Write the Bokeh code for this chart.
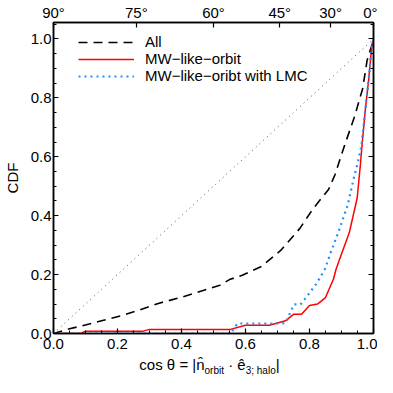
import numpy as np
from bokeh.plotting import figure
from bokeh.layouts import column
from bokeh.models import (Range1d, LinearAxis, FixedTicker, Legend, LegendItem, Div,
                          NumeralTickFormatter, CustomJSTickFormatter)
from bokeh.embed import file_html
from bokeh.resources import INLINE

# ---------------- data ----------------
x_all = [0.0, 0.05, 0.09, 0.15, 0.21, 0.27, 0.33, 0.40, 0.45, 0.52, 0.55, 0.59, 0.65, 0.71,
         0.77, 0.81, 0.86, 0.88, 0.909, 0.94, 0.966, 0.98, 0.995, 1.0]
y_all = [0.0, 0.016, 0.026, 0.043, 0.06, 0.08, 0.103, 0.123, 0.14, 0.164, 0.183, 0.198, 0.228, 0.282,
         0.357, 0.422, 0.49, 0.54, 0.637, 0.734, 0.831, 0.927, 0.98, 1.0]

x_mw = [0.0, 0.085, 0.10, 0.28, 0.30, 0.553, 0.60, 0.675, 0.725, 0.75, 0.775, 0.80, 0.825, 0.85,
        0.875, 0.883, 0.90, 0.924, 0.949, 0.959, 0.964, 0.974, 0.985, 0.995, 1.0]
y_mw = [0.0, 0.0, 0.008, 0.008, 0.014, 0.014, 0.028, 0.028, 0.043, 0.065, 0.065, 0.095, 0.10, 0.122,
        0.185, 0.218, 0.27, 0.341, 0.46, 0.573, 0.637, 0.755, 0.863, 0.98, 1.0]

x_lmc = [0.0, 0.553, 0.575, 0.715, 0.726, 0.738, 0.752, 0.772, 0.795, 0.822, 0.848, 0.868, 0.89,
         0.919, 0.939, 0.954, 0.962, 0.974, 0.985, 0.995, 1.0]
y_lmc = [0.0, 0.0, 0.034, 0.034, 0.037, 0.067, 0.099, 0.099, 0.13, 0.17, 0.218, 0.28, 0.343,
         0.435, 0.53, 0.594, 0.637, 0.755, 0.863, 0.98, 1.0]

diag = [0.0, 1.0]

series_labels = ["All", "MW\u2212like\u2212orbit", "MW\u2212like\u2212oribt with LMC"]

x_ticks = [0.0, 0.2, 0.4, 0.6, 0.8, 1.0]
y_ticks = [0.0, 0.2, 0.4, 0.6, 0.8, 1.0]
angle_ticks = [90, 75, 60, 45, 30, 0]
y_label = "CDF"
xlabel_html = ("cos \u03b8 = |n\u0302<sub>orbit</sub> \u00b7 \u00ea<sub>3; halo</sub>|")

# ---------------- layout / styling ----------------
FONT = "Liberation Sans"
FS = 15
SUB_FS = 10
W = 377
H_LABEL = 20
H_MAIN = 377 - H_LABEL
B_LEFT, B_RIGHT, B_TOP, B_BOTTOM = 46, 4, 19, 24
FRAME_W = W - B_LEFT - B_RIGHT
FRAME_H = H_MAIN - B_TOP - B_BOTTOM

p = figure(width=W, height=H_MAIN,
           x_range=Range1d(0, 1), y_range=Range1d(0, 1.056),
           output_backend="svg", toolbar_location=None,
           x_axis_location=None, y_axis_location=None,
           min_border_left=B_LEFT, min_border_right=B_RIGHT,
           min_border_top=B_TOP, min_border_bottom=B_BOTTOM)
p.grid.visible = False
p.outline_line_color = "black"
p.outline_line_width = 1.5
p.background_fill_color = "white"
p.border_fill_color = "white"

minor = [i * 0.05 for i in range(22)]


def style(ax, size=FS):
    ax.axis_line_width = 1.5
    ax.axis_line_color = "black"
    ax.major_tick_in = 5
    ax.major_tick_out = 0
    ax.minor_tick_in = 3
    ax.minor_tick_out = 0
    ax.major_tick_line_width = 1.2
    ax.minor_tick_line_width = 1
    ax.major_tick_line_color = "black"
    ax.minor_tick_line_color = "black"
    ax.major_label_text_font = FONT
    ax.major_label_text_font_size = f"{size}px"
    ax.major_label_text_color = "black"
    ax.major_label_standoff = 3


bottom = LinearAxis(ticker=FixedTicker(ticks=x_ticks, minor_ticks=minor),
                    formatter=NumeralTickFormatter(format="0.0"))
style(bottom)
bottom.major_label_standoff = 5
p.add_layout(bottom, "below")

left = LinearAxis(ticker=FixedTicker(ticks=y_ticks, minor_ticks=minor),
                  formatter=NumeralTickFormatter(format="0.0"),
                  axis_label=y_label)
style(left)
left.major_label_standoff = 2
left.axis_label_text_font = FONT
left.axis_label_text_font_size = f"{FS}px"
left.axis_label_text_font_style = "normal"
left.axis_label_text_color = "black"
left.axis_label_standoff = 7
p.add_layout(left, "left")

right = LinearAxis(ticker=FixedTicker(ticks=y_ticks, minor_ticks=minor),
                   formatter=CustomJSTickFormatter(code="return ''"))
style(right, size=1)
right.major_label_standoff = 0
p.add_layout(right, "right")

top_pos = [float(np.cos(np.radians(a))) for a in angle_ticks]
top = LinearAxis(ticker=FixedTicker(ticks=top_pos, minor_ticks=[]))
top.major_label_overrides = {t: f"{a}\u00b0" for t, a in zip(top_pos, angle_ticks)}
style(top)
top.major_label_standoff = 2
p.add_layout(top, "above")

# ---------------- lines ----------------
p.line(diag, diag, line_color="#555555", line_width=1, line_dash="1 4")
r_all = p.line(x_all, y_all, line_color="black", line_width=1.6, line_dash="9 6")
r_mw = p.line(x_mw, y_mw, line_color="#ff0000", line_width=1.5)
r_lmc = p.line(x_lmc, y_lmc, line_color="#1E90FF", line_width=2.2, line_dash="2 4")

ROW = 16
legend = Legend(items=[LegendItem(label=series_labels[0], renderers=[r_all]),
                       LegendItem(label=series_labels[1], renderers=[r_mw]),
                       LegendItem(label=series_labels[2], renderers=[r_lmc])],
                location=(25, FRAME_H - 17 - 3 * ROW),
                border_line_color=None, background_fill_alpha=0,
                glyph_width=56, glyph_height=ROW, label_height=ROW,
                label_standoff=11, spacing=0, padding=0, margin=0,
                label_text_font=FONT, label_text_font_size=f"{FS}px",
                label_text_color="black")
p.add_layout(legend)

# ---------------- x axis label (HTML strip with subscripts) ----------------
shift = B_LEFT - B_RIGHT
label = Div(text=(f'<div style="width:{W}px;box-sizing:border-box;padding-left:{shift}px;'
                  f'text-align:center;font-family:\'{FONT}\';font-size:{FS}px;line-height:16px;'
                  f'color:black;white-space:nowrap">'
                  + xlabel_html.replace("<sub>", f'<sub style="font-size:{SUB_FS}px;line-height:0">')
                  + '</div>'),
            width=W, height=H_LABEL, margin=0)

layout = column(p, label, spacing=0)
open("out.html", "w").write(file_html(layout, INLINE))
